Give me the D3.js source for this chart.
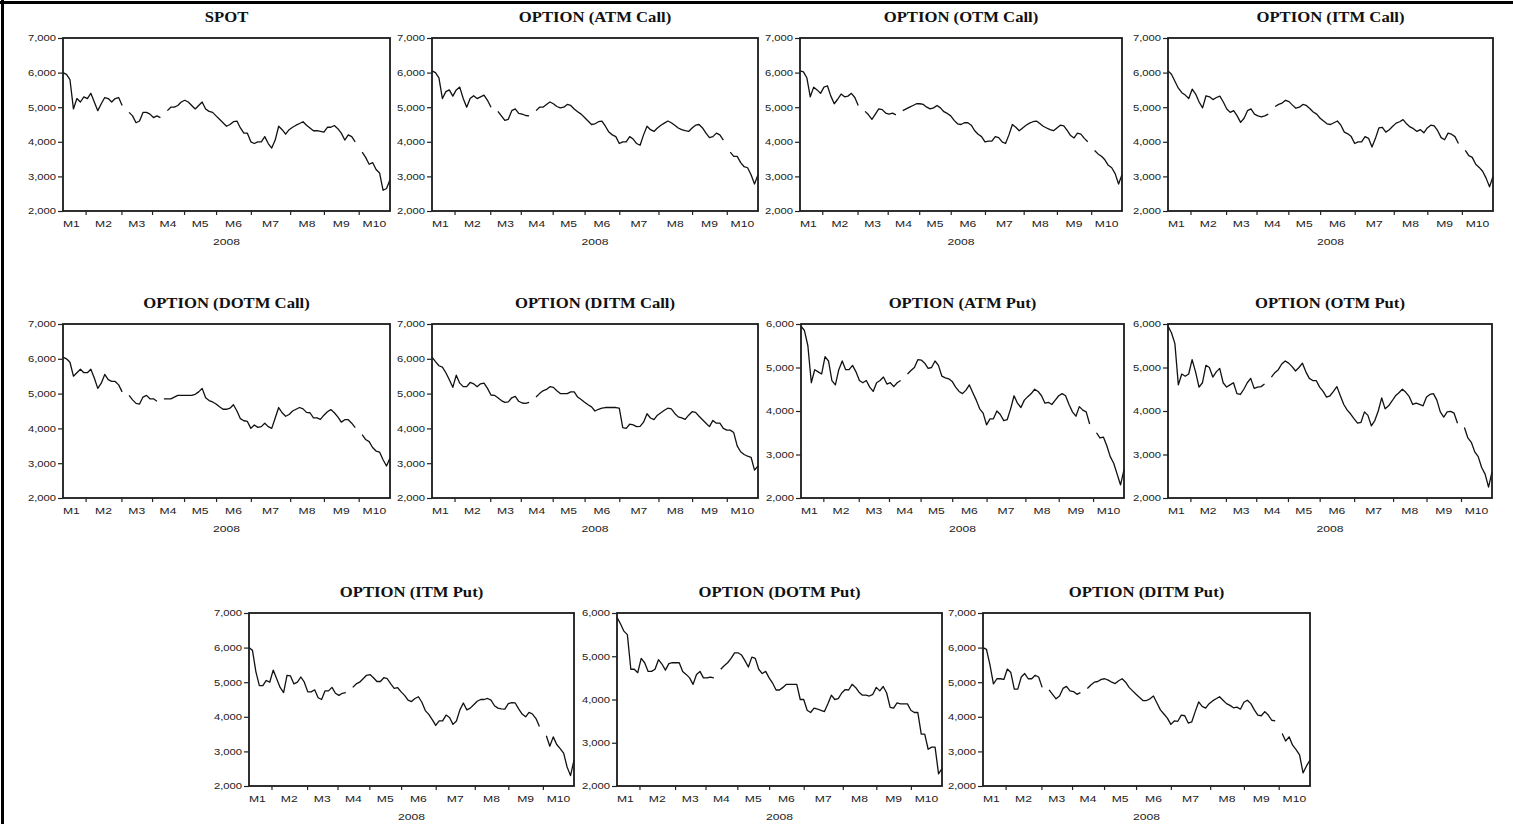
<!DOCTYPE html>
<html><head><meta charset="utf-8">
<script src="https://cdn.jsdelivr.net/npm/d3@7"></script>
<style>html,body{margin:0;padding:0;background:#fff;overflow:hidden}</style>
</head><body><svg id="c" width="1513" height="824"></svg>
<script>
// ---------- data ----------
const months = ["M1","M2","M3","M4","M5","M6","M7","M8","M9","M10"];
const monthBounds = [6.5, 16.8, 25.6, 34.8, 44, 54, 65.3, 75, 85]; // month boundaries in observation index
const nObs = 95;
const yearLabel = "2008";
const yTicks7 = [2000, 3000, 4000, 5000, 6000, 7000];
const yTicks6 = [2000, 3000, 4000, 5000, 6000];

const titles = ["SPOT","OPTION (ATM Call)","OPTION (OTM Call)","OPTION (ITM Call)",
  "OPTION (DOTM Call)","OPTION (DITM Call)","OPTION (ATM Put)","OPTION (OTM Put)",
  "OPTION (ITM Put)","OPTION (DOTM Put)","OPTION (DITM Put)"];
const yMaxes = [7000,7000,7000,7000,7000,7000,6000,6000,7000,6000,7000];

const spot = [6000,5950,5800,4950,5250,5150,5300,5250,5400,5150,
 4900,5100,5280,5250,5150,5250,5280,5050,null,4850,
 4750,4550,4600,4850,4850,4800,4700,4750,4700,null,
 4900,5000,5000,5050,5150,5200,5150,5050,4950,5050,
 5150,4950,4880,4850,4750,4650,4550,4450,4500,4580,
 4600,4400,4250,4250,4000,3950,4000,4000,4150,3950,
 3820,4050,4450,4350,4220,4350,4420,4480,4530,4580,
 4480,4400,4320,4320,4300,4280,4420,4420,4470,4380,
 4250,4050,4200,4150,4000,null,3700,3550,3350,3400,
 3200,3100,2600,2650,2900];
const atmCall = [6050,6000,5850,5250,5450,5500,5320,5500,5580,5250,
 5000,5250,5330,5250,5300,5350,5200,5000,null,4880,
 4750,4620,4650,4900,4950,4820,4800,4760,4750,null,
 4900,5000,5000,5080,5150,5100,5020,4980,5000,5080,
 5050,4950,4870,4800,4700,4600,4500,4520,4580,4600,
 4450,4280,4200,4150,3950,4000,4000,4150,4080,3950,
 3900,4200,4450,4350,4300,4400,4480,4540,4600,4550,
 4480,4400,4350,4320,4300,4400,4480,4500,4400,4250,
 4120,4150,4250,4200,4050,null,3700,3580,3580,3400,
 3280,3250,3050,2780,3050];
const otmCall = [6050,6020,5850,5300,5580,5500,5400,5580,5620,5320,
 5100,5230,5380,5300,5320,5400,5280,5050,null,4880,
 4780,4650,4800,4950,4930,4830,4800,4830,4780,null,
 4900,4950,5000,5050,5100,5100,5080,5000,4950,4980,
 5050,4980,4870,4820,4750,4620,4520,4500,4550,4550,
 4480,4320,4220,4150,4000,4020,4020,4150,4120,4000,
 3950,4200,4500,4420,4320,4400,4480,4540,4580,4600,
 4530,4450,4400,4350,4320,4400,4480,4460,4330,4180,
 4110,4250,4220,4100,4000,null,3750,3650,3580,3480,
 3320,3250,3080,2780,3050];
const itmCall = [6050,5950,5750,5550,5420,5350,5250,5520,5380,5150,
 4980,5330,5300,5220,5280,5320,5150,4950,4850,4900,
 4750,4560,4680,4900,4950,4800,4750,4720,4750,4800,
 null,5020,5080,5120,5200,5160,5060,4970,5000,5080,
 5050,4960,4860,4800,4680,4600,4520,4500,4550,4600,
 4480,4280,4230,4150,3950,4000,4000,4150,4100,3850,
 4100,4400,4420,4280,4350,4450,4540,4580,4640,4520,
 4430,4380,4300,4350,4260,4400,4480,4460,4320,4120,
 4060,4250,4220,4150,3950,null,3750,3600,3550,3350,
 3260,3150,2950,2700,3000];
const dotmCall = [6050,6000,5900,5500,5600,5700,5600,5600,5700,5450,
 5150,5300,5550,5400,5350,5350,5250,5050,null,4950,
 4820,4720,4700,4900,4950,4850,4850,4780,null,4850,
 4850,4850,4900,4950,4950,4950,4950,4950,4980,5050,
 5150,4880,4800,4760,4700,4620,4550,4550,4580,4680,
 4500,4280,4220,4200,4000,4100,4030,4050,4150,4050,
 4000,4300,4600,4450,4350,4400,4500,4550,4600,4560,
 4460,4450,4300,4300,4260,4380,4480,4540,4450,4330,
 4180,4250,4250,4150,4020,null,3820,3680,3620,3450,
 3350,3320,3100,2920,3150];
const ditmCall = [6050,5920,5800,5760,5600,5400,5180,5530,5300,5200,
 5200,5320,5280,5200,5280,5300,5150,4960,4950,4880,
 4800,4750,4760,4880,4920,4780,4730,4720,4750,null,
 4900,5000,5080,5120,5200,5180,5080,5000,5000,5000,
 5050,5050,4900,4830,4750,4680,4620,4500,4550,4580,
 4600,4600,4600,4600,4580,4020,4000,4120,4100,4050,
 4060,4180,4420,4300,4250,4380,4450,4520,4580,4560,
 4430,4330,4300,4260,4380,4480,4460,4350,4250,4150,
 4050,4230,4150,4150,4000,3950,3950,3880,3500,3330,
 3250,3200,3170,2800,2920];
const atmPut = [5950,5850,5500,4650,4950,4900,4850,5250,5150,4700,
 4600,4950,5150,4950,4950,5050,4900,4700,4650,4700,
 4550,4450,4650,4700,4780,4620,4650,4560,4650,4700,
 null,4850,4930,5000,5180,5170,5100,4980,5000,5150,
 5050,4800,4760,4740,4680,4550,4450,4400,4480,4600,
 4420,4250,4050,3950,3680,3820,3820,4000,3920,3780,
 3800,4050,4350,4180,4080,4250,4330,4400,4500,4450,
 4350,4180,4200,4150,4250,4350,4400,4350,4150,3980,
 3880,4100,4020,3980,3700,null,3500,3380,3400,3200,
 2950,2800,2550,2300,2650];
const otmPut = [5950,5800,5550,4600,4850,4800,4850,5180,4900,4550,
 4650,5050,5000,4780,4900,4980,4650,4550,4600,4650,
 4400,4380,4500,4650,4750,4520,4550,4560,4620,null,
 4780,4880,4950,5080,5150,5100,5020,4920,5000,5100,
 4900,4750,4700,4700,4550,4450,4320,4350,4450,4560,
 4350,4150,4020,3930,3820,3720,3740,3980,3900,3660,
 3780,4000,4300,4050,4120,4230,4350,4420,4500,4430,
 4330,4150,4180,4150,4120,4320,4380,4400,4250,3980,
 3860,3980,3990,3950,3720,null,3620,3380,3280,3060,
 2950,2700,2550,2250,2600];
const itmPut = [6000,5920,5300,4900,4900,5050,5000,5350,5100,4850,
 4700,5200,5180,4950,5000,5150,5000,4720,4720,4780,
 4550,4500,4750,4750,4850,4680,4620,4680,4700,null,
 4850,4950,5000,5100,5200,5220,5130,5020,5020,5130,
 5100,4950,4820,4840,4720,4620,4480,4440,4530,4580,
 4420,4180,4070,3920,3750,3880,3880,4050,3980,3780,
 3880,4200,4400,4200,4250,4350,4450,4500,4500,4530,
 4480,4320,4250,4230,4220,4380,4410,4400,4230,4080,
 4000,4130,4080,3950,3720,null,3450,3150,3420,3200,
 3080,2950,2550,2300,2750];
const dotmPut = [5900,5750,5580,5500,4700,4700,4620,4950,4850,4650,
 4650,4700,4920,4820,4680,4830,4850,4850,4850,4650,
 4580,4500,4350,4580,4650,4500,4500,4520,4500,null,
 4700,4780,4850,4950,5080,5080,5030,4900,4750,4980,
 4950,4700,4600,4650,4500,4380,4220,4220,4280,4350,
 4350,4350,4350,4000,4000,3750,3700,3800,3780,3750,
 3720,3900,4100,4000,4020,4150,4230,4220,4350,4280,
 4170,4100,4100,4080,4120,4280,4200,4300,4150,3820,
 3800,3920,3900,3900,3900,3750,3700,3700,3200,3200,
 2850,2900,2900,2280,2400];
const ditmPut = [6000,5950,5500,4950,5100,5100,5080,5380,5280,4800,
 4800,5150,5250,5100,5100,5200,5150,4850,null,4780,
 4650,4520,4600,4820,4880,4750,4730,4650,4700,null,
 4820,4920,5000,5020,5080,5100,5060,5000,4960,5040,
 5100,5000,4850,4750,4650,4560,4470,4470,4520,4600,
 4400,4200,4080,3960,3780,3880,3870,4050,4030,3820,
 3850,4150,4430,4300,4250,4380,4460,4520,4580,4480,
 4380,4330,4260,4280,4220,4420,4480,4380,4200,4050,
 4030,4150,4050,3900,3880,null,3520,3300,3420,3180,
 3050,2900,2380,2580,2750];

const seriesList = [spot, atmCall, otmCall, itmCall, dotmCall, ditmCall, atmPut, otmPut, itmPut, dotmPut, ditmPut];

// ---------- layout (plot frames: left, top, right, bottom) ----------
const boxes = [
  [63,38,390,211],[432,38,758,211],[800,38,1122,211],[1168,38,1493,211],
  [63,324,390,498],[432,324,758,498],[801,324,1124,498],[1168,324,1492,498],
  [249,613,574,786],[617,613,942,786],[983,613,1310,786]
];

const svg = d3.select("#c");
svg.append("rect").attr("width",1513).attr("height",824).attr("fill","#fff");
// outer border (top and left)
svg.append("line").attr("x1",0).attr("x2",1513).attr("y1",2.5).attr("y2",2.5).attr("stroke","#000").attr("stroke-width",3);
svg.append("line").attr("x1",2.5).attr("x2",2.5).attr("y1",0).attr("y2",824).attr("stroke","#000").attr("stroke-width",3);

const LBL_FONT = "'Liberation Sans', Arial, sans-serif";
const TTL_FONT = "'Liberation Serif', 'Times New Roman', serif";
const sxY = 1.25, sxX = 1.35, sxT = 1.15;

seriesList.forEach((data, k) => {
  const [x0, y0, x1, y1] = boxes[k];
  const x = d3.scaleLinear().domain([0, nObs - 1]).range([x0, x1]);
  const y = d3.scaleLinear().domain([2000, yMaxes[k]]).range([y1, y0]);
  const g = svg.append("g");

  // series line
  const line = d3.line().defined(d => d != null).x((d, i) => x(i)).y(d => y(d));
  g.append("path").datum(data).attr("d", line)
    .attr("fill", "none").attr("stroke", "#111").attr("stroke-width", 1.3)
    .attr("stroke-linejoin", "round");

  // frame
  g.append("rect").attr("x", x0).attr("y", y0).attr("width", x1 - x0).attr("height", y1 - y0)
    .attr("fill", "none").attr("stroke", "#1a1a1a").attr("stroke-width", 1.8);

  // y axis
  const ya = g.append("g").attr("transform", `translate(${x0},0)`)
    .call(d3.axisLeft(y).tickValues(yMaxes[k] === 7000 ? yTicks7 : yTicks6)
      .tickFormat(d3.format(",")).tickSize(5));
  ya.select(".domain").remove();
  ya.selectAll("line").attr("stroke", "#222").attr("stroke-width", 1.2);
  ya.selectAll("text").attr("font-family", LBL_FONT).attr("font-size", 9).attr("fill", "#222")
    .attr("x", -7 / sxY).attr("transform", `scale(${sxY},1)`);

  // x axis ticks at month boundaries
  const xa = g.append("g").attr("transform", `translate(0,${y1})`)
    .call(d3.axisBottom(x).tickValues(monthBounds).tickFormat("").tickSize(4));
  xa.select(".domain").remove();
  xa.selectAll("line").attr("stroke", "#222").attr("stroke-width", 1.2);

  // month labels centered in each month
  const edges = [0, ...monthBounds, nObs - 1];
  months.forEach((m, i) => {
    const c = (edges[i] + edges[i + 1]) / 2;
    const px = i === 0 ? x0 : x(c);
    g.append("text").text(m)
      .attr("transform", `translate(${px},${y1 + 16}) scale(${sxX},1)`)
      .attr("text-anchor", i === 0 ? "start" : "middle")
      .attr("font-family", LBL_FONT).attr("font-size", 9).attr("fill", "#222");
  });

  // year label
  g.append("text").text(yearLabel)
    .attr("transform", `translate(${(x0 + x1) / 2},${y1 + 34}) scale(${sxX},1)`)
    .attr("text-anchor", "middle").attr("font-family", LBL_FONT).attr("font-size", 9).attr("fill", "#222");

  // title
  g.append("text").text(titles[k])
    .attr("transform", `translate(${(x0 + x1) / 2},${y0 - 16}) scale(${sxT},1)`)
    .attr("text-anchor", "middle").attr("font-family", TTL_FONT).attr("font-weight", "bold")
    .attr("font-size", 14.5).attr("fill", "#111");
});
</script></body></html>
